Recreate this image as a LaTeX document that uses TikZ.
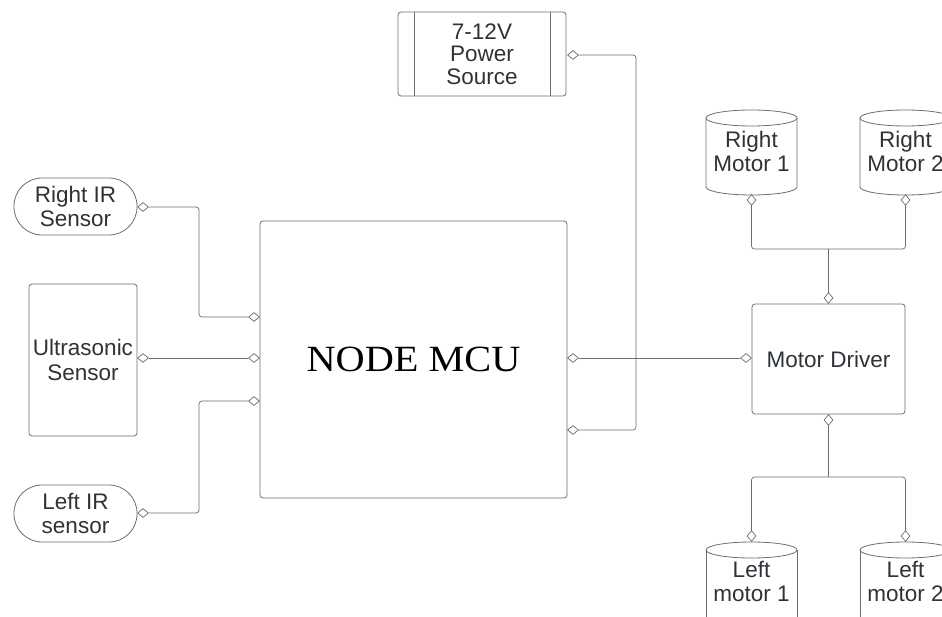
\documentclass[tikz,border=0pt]{standalone}
\usepackage{fontspec}
\setmainfont{Liberation Sans}
\newfontfamily\mcufont{Liberation Serif}
\usetikzlibrary{shapes.geometric,calc}
\definecolor{linec}{HTML}{6E6E6E}
\definecolor{textc}{HTML}{2E3338}
\newcommand\lblfont{\fontsize{22.5}{24.5}\selectfont}
\begin{document}
\begin{tikzpicture}[x=1pt,y=-1pt,
  box/.style={draw=linec, line width=0.8pt, rounded corners=3pt, text=textc, font=\lblfont, align=center, inner sep=0pt},
  stadium/.style={box, rounded corners=28pt},
  txt/.style={text=textc, font=\lblfont, align=center, inner sep=0pt},
  cyl/.style={draw=linec, line width=0.8pt},
  pin/.style={diamond, draw=linec, fill=white, line width=0.7pt, inner sep=0pt, minimum width=11pt, minimum height=9pt},
  vpin/.style={pin, minimum width=9pt, minimum height=11pt},
  wire/.style={draw=linec, line width=0.7pt, rounded corners=3pt}]
\useasboundingbox (0,0) rectangle (942,617);
\clip (0,0) rectangle (942,617);
\fill[white] (0,0) rectangle (942,617);

% main boxes
\node[box, minimum width=307pt, minimum height=277pt, text=black, font={\mcufont\fontsize{37}{40}\selectfont}] (mcu) at (413.5,359.5) {\scalebox{1.09}[1]{NODE MCU}};
\node[box, minimum width=168pt, minimum height=84pt, font={\fontsize{22.5}{22.5}\selectfont}] (ps) at (482,54) {7-12V\\Power\\Source};
\draw[cyl] ($(ps.north west)+(17,0)$) -- ($(ps.south west)+(17,0)$);
\draw[cyl] ($(ps.north east)+(-16,0)$) -- ($(ps.south east)+(-16,0)$);
\node[stadium, minimum width=123pt, minimum height=57pt] (rir) at (75.5,206.5) {Right IR\\Sensor};
\node[box, minimum width=108pt, minimum height=152pt] (us) at (83,360) {Ultrasonic\\Sensor};
\node[stadium, minimum width=123pt, minimum height=57pt] (lir) at (75.5,513.5) {Left IR\\sensor};
\node[box, minimum width=153pt, minimum height=110pt] (md) at (828.5,359) {Motor Driver};

% cylinders
\draw[cyl] (751.5,118) ellipse [x radius=45.5pt, y radius=8pt];
\draw[cyl] (706,118) -- (706,187) arc[start angle=180, end angle=360, x radius=45.5pt, y radius=8pt] -- (797,118);
\node[txt] (rm1) at (751.5,151.5) {Right\\Motor 1};
\draw[cyl] (905.5,118) ellipse [x radius=45.5pt, y radius=8pt];
\draw[cyl] (860,118) -- (860,187) arc[start angle=180, end angle=360, x radius=45.5pt, y radius=8pt] -- (951,118);
\node[txt] (rm2) at (905.5,151.5) {Right\\Motor 2};
\draw[cyl] (751.5,550) ellipse [x radius=45.5pt, y radius=8pt];
\draw[cyl] (706,550) -- (706,640);
\draw[cyl] (797,550) -- (797,640);
\node[txt] (lm1) at (751.5,581.5) {Left\\motor 1};
\draw[cyl] (905.5,550) ellipse [x radius=45.5pt, y radius=8pt];
\draw[cyl] (860,550) -- (860,640);
\draw[cyl] (951,550) -- (951,640);
\node[txt] (lm2) at (905.5,581.5) {Left\\motor 2};

% pins
\node[pin] (prir) at (143,207) {};
\node[pin] (pus) at (143,358) {};
\node[pin] (plir) at (143,513) {};
\node[pin] (pm1) at (254,317) {};
\node[pin] (pm2) at (254,358) {};
\node[pin] (pm3) at (254,401) {};
\node[pin] (pm4) at (573,358) {};
\node[pin] (pm5) at (573,430) {};
\node[pin] (pps) at (573,55) {};
\node[pin] (pmd) at (746,358) {};
\node[vpin] (pmdt) at (828.5,298) {};
\node[vpin] (pmdb) at (828.5,420) {};
\node[vpin] (prm1) at (751.5,200) {};
\node[vpin] (prm2) at (905.5,200) {};
\node[vpin] (plm1) at (751.5,536) {};
\node[vpin] (plm2) at (905.5,536) {};
\coordinate (jt) at (828.5,249);
\coordinate (jb) at (828.5,477);

% wires
\draw[wire] (prir.east) -- (199,207) -- (199,317) -- (pm1.west);
\draw[wire] (pus.east) -- (pm2.west);
\draw[wire] (plir.east) -- (199,513) -- (199,401) -- (pm3.west);
\draw[wire] (pm4.east) -- (pmd.west);
\draw[wire] (pps.east) -- (636,55) -- (636,430) -- (pm5.east);
\draw[wire] (prm1.south) |- (jt) -| (prm2.south);
\draw[wire] (pmdt.north) -- (jt);
\draw[wire] (plm1.north) |- (jb) -| (plm2.north);
\draw[wire] (pmdb.south) -- (jb);
\end{tikzpicture}
\end{document}
